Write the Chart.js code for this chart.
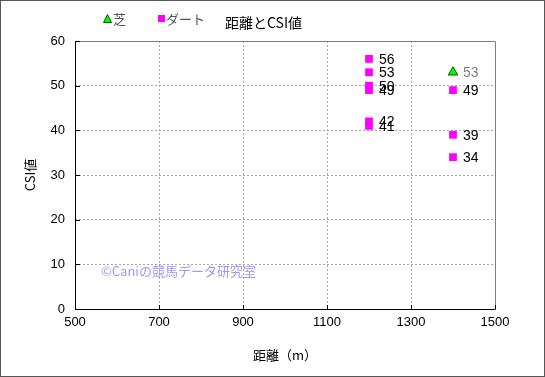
<!DOCTYPE html>
<html><head><meta charset="utf-8">
<script src="https://cdn.jsdelivr.net/npm/chart.js@4/dist/chart.umd.min.js"></script>
<style>html,body{margin:0;padding:0;background:#fff}#wrap{width:545px;height:377px}</style>
</head><body><div id="wrap"><canvas id="c" width="545" height="377"></canvas></div>
<script>
const titleText = '距離とCSI値';
const xTitle = '距離（m）';
const yTitle = 'CSI値';
const watermark = '©Caniの競馬データ研究室';
const seriesNames = ['芝', 'ダート'];
const turfX = [1400];
const turfY = [53];
const dartX = [1200, 1200, 1200, 1200, 1200, 1200, 1400, 1400, 1400];
const dartY = [56, 53, 50, 49, 42, 41, 49, 39, 34];
const xTicks = [500, 700, 900, 1100, 1300, 1500];
const yTicks = [0, 10, 20, 30, 40, 50, 60];

const FONT = '"Noto Sans CJK JP", "Liberation Sans", sans-serif';
const NFONT = '"Liberation Sans", "Noto Sans CJK JP", sans-serif';
const toPts = (xs, ys) => xs.map((x, i) => ({x: x, y: ys[i]}));

const decor = {
  id: 'decor',
  beforeDraw(chart) {
    const ctx = chart.ctx;
    ctx.save();
    ctx.fillStyle = '#fff';
    ctx.fillRect(0, 0, chart.width, chart.height);
    ctx.restore();
  },
  afterDraw(chart) {
    const ctx = chart.ctx, a = chart.chartArea;
    const xs = chart.scales.x, ys = chart.scales.y;
    ctx.save();
    ctx.lineWidth = 1;
    ctx.strokeStyle = '#808080';
    ctx.beginPath();
    ctx.moveTo(Math.round(a.left) + 0.5, Math.round(a.top) + 0.5);
    ctx.lineTo(Math.round(a.right) + 0.5, Math.round(a.top) + 0.5);
    ctx.lineTo(Math.round(a.right) + 0.5, Math.round(a.bottom) + 0.5);
    ctx.stroke();
    ctx.strokeStyle = '#000';
    ctx.beginPath();
    ctx.moveTo(Math.round(a.left) + 0.5, Math.round(a.top) + 0.5);
    ctx.lineTo(Math.round(a.left) + 0.5, Math.round(a.bottom) + 0.5);
    ctx.lineTo(Math.round(a.right) + 0.5, Math.round(a.bottom) + 0.5);
    ctx.stroke();
    ctx.beginPath();
    xTicks.forEach(v => {
      const px = Math.round(xs.getPixelForValue(v)) + 0.5;
      ctx.moveTo(px, Math.round(a.bottom));
      ctx.lineTo(px, Math.round(a.bottom) - 4);
    });
    yTicks.forEach(v => {
      const py = Math.round(ys.getPixelForValue(v)) + 0.5;
      ctx.moveTo(Math.round(a.left), py);
      ctx.lineTo(Math.round(a.left) + 5, py);
    });
    ctx.stroke();
    ctx.font = '14px ' + NFONT;
    ctx.textBaseline = 'middle';
    ctx.textAlign = 'left';
    chart.data.datasets.forEach((ds, di) => {
      const meta = chart.getDatasetMeta(di);
      ctx.fillStyle = di === 0 ? '#808080' : '#000';
      meta.data.forEach((el, i) => {
        ctx.fillText(String(ds.data[i].y), el.x + 10, el.y + 1);
      });
    });
    ctx.fillStyle = '#000';
    ctx.font = '14px ' + FONT;
    ctx.textAlign = 'left';
    ctx.fillText(titleText, 225, 23);
    ctx.font = '13px ' + FONT;
    ctx.fillStyle = '#00ff00';
    ctx.strokeStyle = '#006000';
    ctx.beginPath();
    ctx.moveTo(107.5, 14.5); ctx.lineTo(111.5, 22.5); ctx.lineTo(103.5, 22.5); ctx.closePath();
    ctx.fill(); ctx.stroke();
    ctx.fillStyle = '#555';
    ctx.fillText(seriesNames[0], 113, 19);
    ctx.fillStyle = '#ff00ff';
    ctx.fillRect(158, 15, 7, 7);
    ctx.fillStyle = '#555';
    ctx.fillText(seriesNames[1], 166, 19);
    ctx.fillStyle = '#9a9aff';
    ctx.font = '13px ' + FONT;
    ctx.fillText(watermark, 101, 271);
    ctx.strokeStyle = '#555';
    ctx.strokeRect(0.5, 0.5, chart.width - 1, chart.height - 1);
    ctx.restore();
  }
};

new Chart(document.getElementById('c'), {
  type: 'scatter',
  data: {
    datasets: [
      {label: seriesNames[0], data: toPts(turfX, turfY), pointStyle: 'triangle', radius: 5.5, hoverRadius: 5.5,
       backgroundColor: '#00ff00', borderColor: '#006000', borderWidth: 1},
      {label: seriesNames[1], data: toPts(dartX, dartY), pointStyle: 'rect', radius: 5.5, hoverRadius: 5.5,
       backgroundColor: '#ff00ff', borderColor: '#ff00ff', borderWidth: 0}
    ]
  },
  options: {
    responsive: false,
    animation: false,
    devicePixelRatio: 1,
    layout: {padding: {left: 0, top: 41, right: 50, bottom: 0}},
    plugins: {legend: {display: false}, title: {display: false}, tooltip: {enabled: false}},
    scales: {
      x: {
        type: 'linear', min: 500, max: 1500,
        afterBuildTicks: s => { s.ticks = xTicks.map(v => ({value: v})); },
        afterFit: s => { s.height = 68; },
        ticks: {color: '#000', font: {size: 13, family: NFONT}, padding: 6, maxRotation: 0, callback: v => String(v)},
        grid: {color: ctx => (ctx.tick && (ctx.tick.value === 500 || ctx.tick.value === 1500)) ? 'rgba(0,0,0,0)' : '#a8a8a8',
               tickLength: 0, drawTicks: false},
        border: {display: false, dash: [2, 2]},
        title: {display: true, text: xTitle, color: '#000', font: {size: 13, family: FONT}, padding: {top: 0, bottom: 14}}
      },
      y: {
        type: 'linear', min: 0, max: 60,
        afterBuildTicks: s => { s.ticks = yTicks.map(v => ({value: v})); },
        afterFit: s => { s.width = 75; },
        ticks: {color: '#000', font: {size: 13, family: NFONT}, padding: 10, callback: v => String(v)},
        grid: {color: ctx => (ctx.tick && (ctx.tick.value === 0 || ctx.tick.value === 60)) ? 'rgba(0,0,0,0)' : '#a8a8a8',
               tickLength: 0, drawTicks: false},
        border: {display: false, dash: [2, 2]},
        title: {display: true, text: yTitle, color: '#000', font: {size: 13, family: FONT}, padding: {top: 22, bottom: 0}}
      }
    }
  },
  plugins: [decor]
});
</script></body></html>
